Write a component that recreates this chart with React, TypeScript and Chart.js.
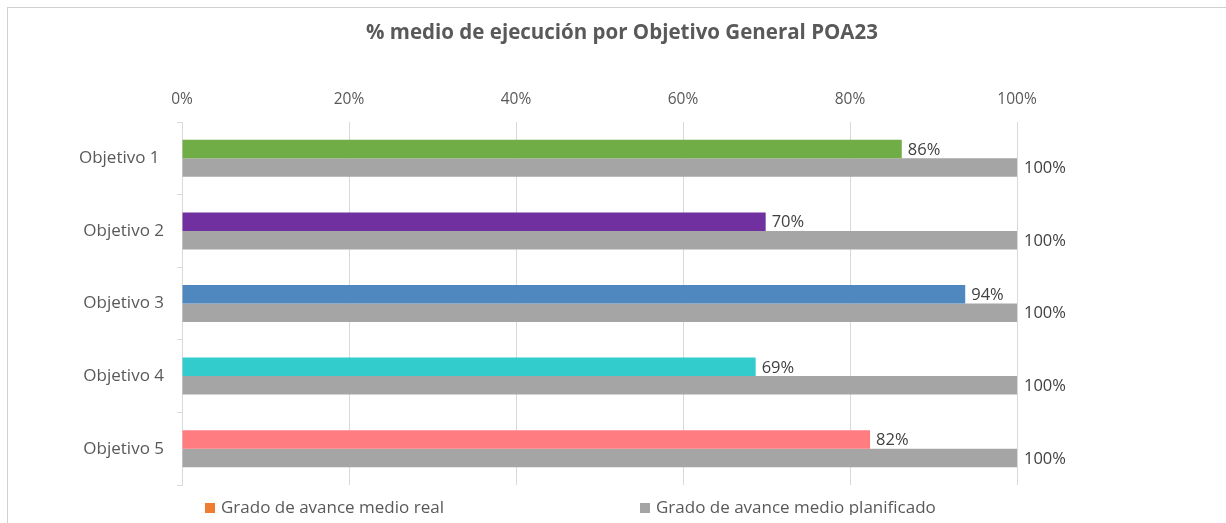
import React, { useEffect, useRef } from "react";
import { Chart, registerables } from "chart.js";

Chart.register(...registerables);

const TITLE = "% medio de ejecución por Objetivo General POA23";
const categories = ["Objetivo 1 ", "Objetivo 2", "Objetivo 3", "Objetivo 4", "Objetivo 5"];
const realValues = [86.2, 69.9, 93.8, 68.7, 82.4];
const plannedValues = [100, 100, 100, 100, 100];
const realColors = ["#70AD47", "#7030A0", "#4F87BF", "#33CCCC", "#FF7C80"];
const plannedColor = "#A5A5A5";
const seriesNames = ["Grado de avance medio real", "Grado de avance medio planificado"];
const legendColors = ["#ED7D31", "#A5A5A5"];
const xTicks = [0, 20, 40, 60, 80, 100];

const FONT = "'Open Sans', sans-serif";
const TEXT = "#595959";

const titlePlugin = {
  id: "customTitle",
  afterDraw(chart: any) {
    const ctx = chart.ctx;
    ctx.save();
    ctx.font = `bold 20.5px ${FONT}`;
    ctx.fillStyle = TEXT;
    ctx.textAlign = "center";
    ctx.textBaseline = "middle";
    ctx.fillText(TITLE, 614, 25);
    ctx.restore();
  },
};

const labelsPlugin = {
  id: "barLabels",
  afterDatasetsDraw(chart: any) {
    const ctx = chart.ctx;
    ctx.save();
    ctx.font = `16.5px ${FONT}`;
    ctx.fillStyle = "#404040";
    ctx.textAlign = "left";
    ctx.textBaseline = "middle";
    chart.data.datasets.forEach((ds: any, di: number) => {
      const meta = chart.getDatasetMeta(di);
      meta.data.forEach((el: any, i: number) => {
        const v = ds.data[i];
        const off = di === 0 ? 6 : 7;
        ctx.fillText(Math.round(v) + "%", el.x + off, el.y + 1);
      });
    });
    ctx.restore();
  },
};

const legendPlugin = {
  id: "customLegend",
  afterDraw(chart: any) {
    const ctx = chart.ctx;
    ctx.save();
    ctx.font = `17px ${FONT}`;
    ctx.textBaseline = "middle";
    ctx.textAlign = "left";
    const y = 500;
    const starts = [197, 632];
    seriesNames.forEach((name, i) => {
      ctx.fillStyle = legendColors[i];
      ctx.fillRect(starts[i], y - 5, 10, 10);
      ctx.fillStyle = TEXT;
      ctx.fillText(name, starts[i] + 16, y);
    });
    ctx.restore();
  },
};

export default function App() {
  const ref = useRef<HTMLCanvasElement>(null);
  useEffect(() => {
    if (!ref.current) return;
    const chart = new Chart(ref.current, {
      type: "bar",
      data: {
        labels: categories,
        datasets: [
          {
            label: seriesNames[0],
            data: realValues,
            backgroundColor: realColors,
            categoryPercentage: 0.51,
            barPercentage: 1,
          },
          {
            label: seriesNames[1],
            data: plannedValues,
            backgroundColor: plannedColor,
            categoryPercentage: 0.51,
            barPercentage: 1,
          },
        ],
      },
      options: {
        indexAxis: "y",
        responsive: false,
        animation: false,
        layout: { padding: { top: 83, right: 201, bottom: 30, left: 0 } },
        plugins: {
          legend: { display: false },
          title: { display: false },
          tooltip: { enabled: false },
        },
        scales: {
          x: {
            position: "top",
            min: 0,
            max: 100,
            afterBuildTicks: (s: any) => {
              s.ticks = xTicks.map((v) => ({ value: v }));
            },
            afterFit: (s: any) => {
              s.height = 31;
            },
            ticks: {
              callback: (v: any) => v + "%",
              color: TEXT,
              font: { family: FONT, size: 15.5 },
              padding: 13,
            },
            grid: { color: "#D9D9D9", drawTicks: false },
            border: { display: false },
          },
          y: {
            afterFit: (s: any) => {
              s.width = 174;
            },
            ticks: {
              color: TEXT,
              font: { family: FONT, size: 17 },
              padding: 13,
            },
            grid: {
              drawOnChartArea: false,
              drawTicks: true,
              tickLength: 5,
              color: "#D9D9D9",
            },
            border: { display: true, color: "#D9D9D9" },
          },
        },
      },
      plugins: [titlePlugin, labelsPlugin, legendPlugin],
    });
    return () => chart.destroy();
  }, []);
  return (
    <div
      style={{
        position: "absolute",
        left: 7,
        top: 7,
        borderTop: "1px solid #D0D0D0",
        borderLeft: "1px solid #D0D0D0",
        width: 1219,
        height: 516,
        boxSizing: "border-box",
      }}
    >
      <canvas ref={ref} width={1210} height={507} style={{ display: "block" }} />
    </div>
  );
}
